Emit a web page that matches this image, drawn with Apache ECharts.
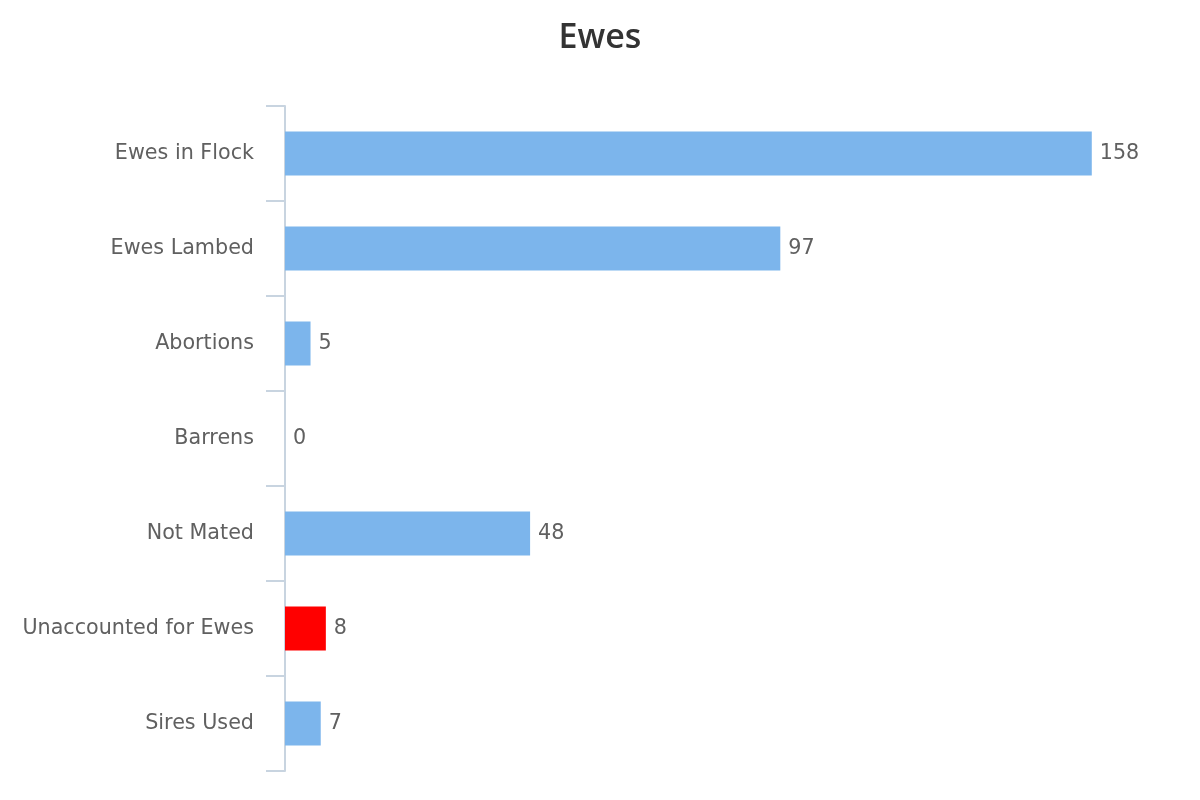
<!DOCTYPE html>
<html><head><meta charset="utf-8">
<script src="https://cdn.jsdelivr.net/npm/echarts@6/dist/echarts.min.js"></script>
<style>html,body{margin:0;padding:0;background:#fff}#c{width:1200px;height:800px}</style>
</head><body><div id="c"></div>
<script>
const categories = ["Ewes in Flock","Ewes Lambed","Abortions","Barrens","Not Mated","Unaccounted for Ewes","Sires Used"];
const values = [158, 97, 5, 0, 48, 8, 7];
const highlight = [false, false, false, false, false, true, false];
const titleText = "Ewes";

const chart = echarts.init(document.getElementById('c'));
chart.setOption({
  animation: false,
  title: {text: titleText, left: 'center', top: 16,
    textStyle: {fontFamily: 'Open Sans', fontSize: 34, fontWeight: 600, color: '#333333'}},
  grid: {left: 285, right: 98, top: 106, bottom: 29, containLabel: false},
  xAxis: {type: 'value', min: 0, max: 160, show: false},
  yAxis: {type: 'category', inverse: true, data: categories,
    axisLine: {show: true, lineStyle: {color: '#C8D4E0', width: 2}},
    axisTick: {show: true, length: 19, alignWithLabel: false, lineStyle: {color: '#C8D4E0', width: 2}},
    axisLabel: {margin: 31, fontFamily: 'DejaVu Sans', fontSize: 20.7, color: '#606060', padding: [2, 0, 0, 0]}},
  series: [{type: 'bar', barWidth: 44,
    data: values.map((v, i) => ({value: v, itemStyle: {color: highlight[i] ? '#ff0000' : '#7cb5ec'}})),
    label: {show: true, position: 'right', distance: 8, fontFamily: 'DejaVu Sans', fontSize: 20.7, color: '#606060', padding: [2, 0, 0, 0]}}]
});
</script></body></html>
